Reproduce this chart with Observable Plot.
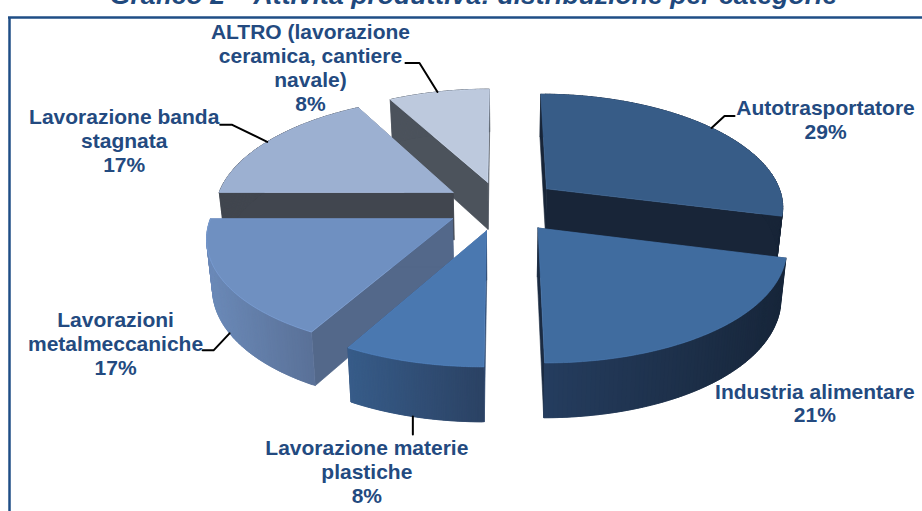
<!DOCTYPE html>
<html><head><meta charset="utf-8">
<script src="https://cdn.jsdelivr.net/npm/d3@7"></script>
<script src="https://cdn.jsdelivr.net/npm/@observablehq/plot@0.6"></script>
<style>html,body{margin:0;padding:0;background:#fff}svg{display:block}</style>
</head><body><div id="c"></div>
<script>
// --- data
const categories = ["Autotrasportatore","Industria alimentare","Lavorazione materie\nplastiche","Lavorazioni\nmetalmeccaniche","Lavorazione banda\nstagnata","ALTRO (lavorazione\nceramica, cantiere\nnavale)"];
const percents = [29,21,8,17,17,8];
const titleText = "Grafico 2 – Attività produttiva: distribuzione per categorie";

// --- styling and layout (separate from the values)
const W = 922, H = 511;
const explode = [.25,.25,.23,.23,.235,.22];
const topFill = ["#375c87","#406c9f","#4a78b0","#6f90c1","#9cb0d1","#bdc9dd"];
const wallFill = ["#182538","#1b2b42","#2f4a70","#53688a","#41464f","#4c535c"];
const arcLeft = ["#182538","#253d5f","#375c89","#6b8ab8","#41464f","#4c535c"];
const arcRight = ["#182538","#17263a","#2b4264","#5a7198","#41464f","#4c535c"];
const paintOrder = [5,4,0,3,1,2];
const leaderAngle = [52,125,194.7,239,300,345.2];
const leaderDepth = [0,1,1,1,0,0];
const elbow = [[[13,-12],[23,-12]],null,[[0,18],[0,18]],[[-16,17],[-27,17]],[[-35,-17],[-47,-17]],[[-18,-29],[-32,-29]]];
const labelOffset = [[114,-9],[59,50],[-46,55],[-114,10],[-143,-2],[-127,-25]];

// perspective view of the pie
const cx = 500, cy = 205, A = 238, B = 111, kx = .145, ky = .13, h = 48, kh = .104, shrink = .02;
const project = (X,Y,Z) => [
  cx + A*X/(1+kx*Y)*(1-shrink*Z),
  cy - B*Y/(1+ky*Y) + Z*h/(1+kh*Y)
];
const total = d3.sum(percents);
const rad = d => d*Math.PI/180;
const cum = d3.cumsum(percents);
const slices = percents.map((v,i)=>{
  const a0 = (i?cum[i-1]:0)/total*360, a1 = cum[i]/total*360, mid=(a0+a1)/2;
  const ox = explode[i]*Math.sin(rad(mid)), oy = explode[i]*Math.cos(rad(mid));
  const at = (deg,z)=>project(ox+Math.sin(rad(deg)),oy+Math.cos(rad(deg)),z);
  const apex = z=>project(ox,oy,z);
  return {i,a0,a1,at,apex};
});

const polys = [];
let nextId = 0;
const add = (pts,fill,stroke) => {
  const id = nextId++;
  [...pts,pts[0]].forEach(p=>polys.push({id,px:p[0],py:p[1],fill,stroke:stroke||fill}));
};
for (const i of paintOrder) {
  const s = slices[i], n = 80;
  const angs = d3.range(n+1).map(k=>s.a0+(s.a1-s.a0)*k/n);
  add([s.apex(0),s.at(s.a0,0),s.at(s.a0,1),s.apex(1)],wallFill[i]);
  add([s.apex(0),s.at(s.a1,0),s.at(s.a1,1),s.apex(1)],wallFill[i]);
  const mix = d3.interpolateRgb(arcLeft[i],arcRight[i]);
  const xs = angs.map(d=>s.at(d,1)[0]);
  const [x0,x1] = d3.extent(xs);
  for (let k=0;k<n;k++){
    const t = (xs[k]-x0)/(x1-x0||1);
    add([s.at(angs[k],0),s.at(angs[Math.min(k+2,n)],0),s.at(angs[Math.min(k+2,n)],1),s.at(angs[k],1)],d3.color(mix(t)).formatHex());
  }
  add([s.apex(0),...angs.map(d=>s.at(d,0))],topFill[i],d3.color(topFill[i]).brighter(.35).formatHex());
}

const leaders = [], labels = [];
slices.forEach((s,i)=>{
  const p = s.at(leaderAngle[i],leaderDepth[i]);
  if (elbow[i]) [p,...elbow[i].map(e=>[p[0]+e[0],p[1]+e[1]])].forEach(q=>leaders.push({i,x:q[0],y:q[1]}));
  labels.push({x:p[0]+labelOffset[i][0],y:p[1]+labelOffset[i][1],t:categories[i]+"\n"+percents[i]+"%"});
});

const plot = Plot.plot({
  width:W,height:H,margin:0,
  x:{domain:[0,W],range:[0,W],axis:null},
  y:{domain:[0,H],range:[0,H],axis:null},
  color:{type:"identity"},
  style:{background:"#fff",overflow:"hidden"},
  marks:[
    Plot.ruleY([17],{x1:8,x2:W,stroke:"#1f4e86",strokeWidth:2.5}),
    Plot.ruleX([9],{y1:17,y2:H,stroke:"#1f4e86",strokeWidth:2.5}),
    Plot.line(polys,{x:"px",y:"py",z:"id",fill:"fill",stroke:"stroke",strokeWidth:.6,curve:"linear"}),
    Plot.line(leaders,{x:"x",y:"y",z:"i",stroke:"#000",strokeWidth:2,curve:"linear"}),
    Plot.text(labels,{x:"x",y:"y",text:"t",fill:"#234a80",fontFamily:"Liberation Sans",fontWeight:"bold",fontSize:21,lineHeight:1.143,textAnchor:"middle",lineAnchor:"middle"}),
    Plot.text([titleText],{x:()=>473,y:()=>-5,text:d=>d,fill:"#1f497d",fontFamily:"Liberation Sans",fontWeight:"bold",fontStyle:"italic",fontSize:26.6,textAnchor:"middle",lineAnchor:"middle"})
  ]
});
document.getElementById("c").append(plot);
</script></body></html>
